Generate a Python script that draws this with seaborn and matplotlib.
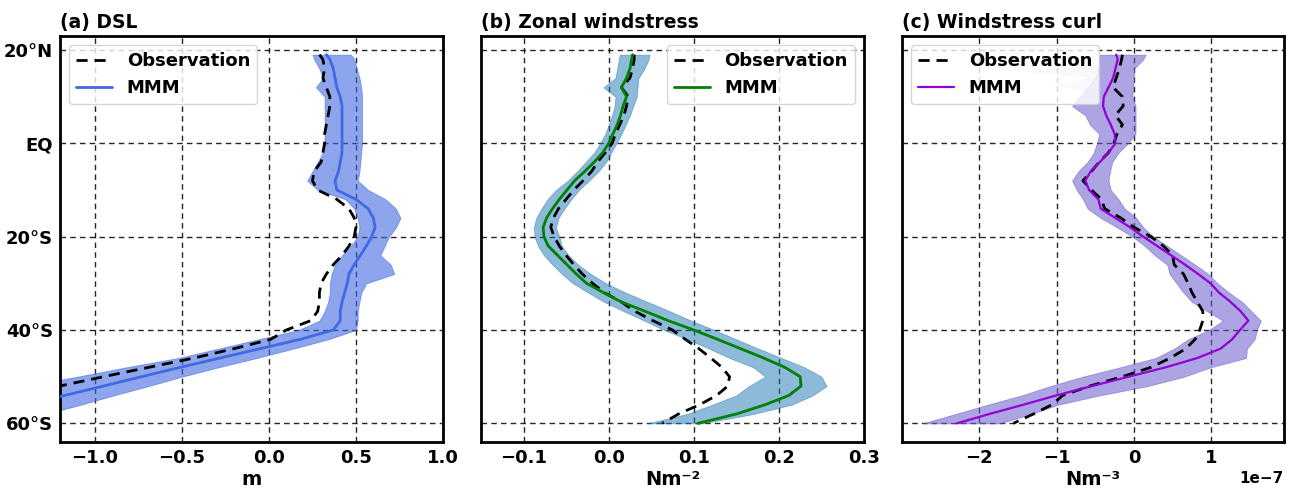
import numpy as np
import pandas as pd
import matplotlib
matplotlib.use("Agg")
import matplotlib.pyplot as plt
import seaborn as sns

# ---------------- data ----------------
lat = [19, 18, 16, 14, 12, 10, 8, 6, 4, 2,
       0, -2, -4, -6, -8, -10, -12, -14, -16, -18,
       -20, -22, -24, -26, -28, -30, -32, -34, -36, -38,
       -40, -42, -44, -46, -48, -50, -52, -54, -56, -58,
       -60]

# (a) DSL [m]
dsl_mmm = [0.33, 0.35, 0.37, 0.38, 0.39, 0.41, 0.42, 0.42, 0.42, 0.42,
           0.42, 0.42, 0.41, 0.40, 0.38, 0.39, 0.50, 0.57, 0.60, 0.61,
           0.59, 0.56, 0.525, 0.49, 0.46, 0.45, 0.435, 0.42, 0.41, 0.41,
           0.37, 0.18, -0.05, -0.28, -0.51, -0.73, -0.95, -1.17, -1.40, -1.62,
           -1.84]
dsl_obs = [0.29, 0.31, 0.32, 0.31, 0.33, 0.35, 0.35, 0.34, 0.33, 0.32,
           0.32, 0.31, 0.30, 0.26, 0.25, 0.28, 0.39, 0.46, 0.49, 0.50,
           0.49, 0.46, 0.42, 0.37, 0.33, 0.30, 0.29, 0.29, 0.28, 0.24,
           0.10, 0.01, -0.20, -0.43, -0.69, -0.95, -1.20, -1.45, -1.70, -1.95,
           -2.20]
dsl_lo = [0.25, 0.26, 0.29, 0.31, 0.27, 0.32, 0.32, 0.32, 0.32, 0.32,
          0.32, 0.31, 0.28, 0.25, 0.22, 0.28, 0.44, 0.49, 0.51, 0.52,
          0.51, 0.47, 0.42, 0.38, 0.36, 0.35, 0.35, 0.34, 0.32, 0.29,
          0.17, -0.06, -0.29, -0.52, -0.82, -1.10, -1.39, -1.67, -1.95, -2.23,
          -2.50]
dsl_hi = [0.47, 0.49, 0.505, 0.52, 0.53, 0.535, 0.535, 0.535, 0.535, 0.535,
          0.535, 0.53, 0.525, 0.52, 0.51, 0.57, 0.67, 0.73, 0.755, 0.73,
          0.69, 0.665, 0.64, 0.70, 0.72, 0.56, 0.53, 0.52, 0.51, 0.51,
          0.50, 0.34, 0.14, -0.07, -0.29, -0.50, -0.69, -0.89, -1.08, -1.28,
          -1.47]

# (b) Zonal windstress [N m-2]
ws_mmm = [0.028, 0.027, 0.025, 0.021, 0.015, 0.021, 0.017, 0.014, 0.010, 0.005,
          0.000, -0.007, -0.017, -0.028, -0.040, -0.049, -0.058, -0.066, -0.073, -0.077,
          -0.076, -0.071, -0.060, -0.049, -0.038, -0.026, -0.006, 0.015, 0.043, 0.070,
          0.100, 0.128, 0.155, 0.182, 0.207, 0.225, 0.226, 0.212, 0.184, 0.150,
          0.105]
ws_obs = [0.030, 0.030, 0.028, 0.025, 0.015, 0.023, 0.021, 0.018, 0.013, 0.008,
          0.004, -0.004, -0.013, -0.020, -0.030, -0.041, -0.050, -0.059, -0.065, -0.068,
          -0.064, -0.058, -0.050, -0.041, -0.031, -0.019, -0.005, 0.015, 0.031, 0.052,
          0.075, 0.090, 0.106, 0.120, 0.133, 0.142, 0.140, 0.127, 0.107, 0.082,
          0.063]
ws_lo = [0.013, 0.012, 0.010, 0.008, -0.006, 0.008, 0.007, 0.004, 0.000, -0.004,
         -0.010, -0.017, -0.027, -0.037, -0.048, -0.062, -0.072, -0.079, -0.085, -0.088,
         -0.087, -0.083, -0.076, -0.066, -0.055, -0.042, -0.024, -0.005, 0.018, 0.042,
         0.065, 0.093, 0.118, 0.142, 0.170, 0.184, 0.165, 0.150, 0.122, 0.092,
         0.046]
ws_hi = [0.048, 0.047, 0.042, 0.035, 0.034, 0.033, 0.029, 0.025, 0.020, 0.015,
         0.009, 0.003, -0.003, -0.012, -0.023, -0.035, -0.044, -0.052, -0.059, -0.062,
         -0.058, -0.055, -0.047, -0.036, -0.021, -0.003, 0.020, 0.046, 0.072, 0.097,
         0.124, 0.150, 0.176, 0.203, 0.230, 0.250, 0.256, 0.240, 0.215, 0.170,
         0.110]

# (c) Windstress curl [1e-7 N m-3]
CURL_UNIT = 1e-7
curl_mmm = [-0.23, -0.21, -0.24, -0.27, -0.33, -0.39, -0.40, -0.36, -0.30, -0.25,
            -0.24, -0.33, -0.44, -0.56, -0.63, -0.58, -0.46, -0.43, -0.24, -0.05,
            0.12, 0.30, 0.48, 0.66, 0.83, 0.99, 1.10, 1.25, 1.38, 1.48,
            1.37, 1.27, 1.12, 0.82, 0.41, -0.07, -0.54, -1.00, -1.43, -1.87,
            -2.29]
curl_obs = [-0.15, -0.16, -0.19, -0.23, -0.27, -0.15, -0.14, -0.24, -0.15, -0.22,
            -0.26, -0.33, -0.45, -0.55, -0.66, -0.55, -0.42, -0.38, -0.17, 0.00,
            0.22, 0.38, 0.50, 0.52, 0.64, 0.70, 0.75, 0.82, 0.89, 0.89,
            0.85, 0.79, 0.67, 0.47, 0.22, -0.15, -0.57, -0.92, -1.06, -1.30,
            -1.56]
curl_lo = [-0.45, -0.45, -0.46, -0.50, -0.60, -0.70, -0.80, -0.63, -0.57, -0.45,
           -0.48, -0.52, -0.60, -0.72, -0.80, -0.74, -0.66, -0.60, -0.43, -0.22,
           -0.02, 0.14, 0.27, 0.43, 0.46, 0.55, 0.64, 0.75, 0.95, 1.15,
           0.97, 0.70, 0.52, 0.28, -0.18, -0.66, -1.08, -1.45, -1.89, -2.31,
           -2.73]
curl_hi = [0.15, 0.12, 0.00, 0.00, -0.01, -0.02, 0.02, 0.02, 0.02, 0.02,
           -0.08, -0.20, -0.28, -0.31, -0.33, -0.30, -0.20, -0.12, 0.03, 0.12,
           0.25, 0.43, 0.61, 0.79, 0.96, 1.08, 1.23, 1.40, 1.52, 1.64,
           1.59, 1.56, 1.46, 1.45, 0.99, 0.65, 0.18, -0.44, -0.98, -1.33,
           -1.73]
# faint single-model excursions in (c)
spike_lat = [17.0, 15.3, 14.2, 13.2, 12.4, 11.5]
spike_x = [-0.45, -1.39, -0.60, -0.75, -1.09, -0.60]
spike_edge = [-0.45, -0.45, -0.50, -0.55, -0.60, -0.60]

ytick_vals = [20, 0, -20, -40, -60]
ytick_labels = ["20°N", "EQ", "20°S", "40°S", "60°S"]

titles = ["(a) DSL", "(b) Zonal windstress", "(c) Windstress curl"]
xlabels = ["m", "Nm⁻²", "Nm⁻³"]
xticks_a = [-1.0, -0.5, 0.0, 0.5, 1.0]
xticks_b = [-0.1, 0.0, 0.1, 0.2, 0.3]
xticks_c = [-2e-7, -1e-7, 0.0, 1e-7]

# ---------------- style ----------------
sns.set_style("white")
plt.rcParams["font.family"] = ["DejaVu Sans"]
plt.rcParams["font.weight"] = "bold"
plt.rcParams["axes.titleweight"] = "bold"
plt.rcParams["axes.labelweight"] = "bold"
plt.rcParams["axes.unicode_minus"] = True
plt.rcParams["text.color"] = "black"
plt.rcParams["axes.labelcolor"] = "black"
plt.rcParams["xtick.color"] = "black"
plt.rcParams["ytick.color"] = "black"
plt.rcParams["axes.edgecolor"] = "black"

fig = plt.figure(figsize=(12.91, 4.90), dpi=100)
W, H = 1291, 490
def rect(l, r, t=36, b=442):
    return [l / W, 1 - b / H, (r - l) / W, (b - t) / H]

ax_a = fig.add_axes(rect(60, 443))
ax_b = fig.add_axes(rect(481, 864))
ax_c = fig.add_axes(rect(902, 1284))

panels = [
    dict(ax=ax_a, mmm=dsl_mmm, obs=dsl_obs, lo=dsl_lo, hi=dsl_hi, scale=1.0,
         fill="royalblue", falpha=0.6, line="royalblue", lw=2.0,
         xlim=(-1.2, 1.0), xticks=xticks_a, loc="upper left"),
    dict(ax=ax_b, mmm=ws_mmm, obs=ws_obs, lo=ws_lo, hi=ws_hi, scale=1.0,
         fill="#1f77b4", falpha=0.5, line="green", lw=2.0,
         xlim=(-0.15, 0.3), xticks=xticks_b, loc="upper right"),
    dict(ax=ax_c, mmm=curl_mmm, obs=curl_obs, lo=curl_lo, hi=curl_hi, scale=CURL_UNIT,
         fill="slateblue", falpha=0.55, line="darkviolet", lw=1.6,
         xlim=(-3.0e-7, 1.94e-7), xticks=xticks_c, loc="upper left"),
]

for i, p in enumerate(panels):
    ax = p["ax"]
    s = p["scale"]
    lo = np.array(p["lo"]) * s
    hi = np.array(p["hi"]) * s
    ax.fill_betweenx(lat, lo, hi, color=p["fill"], alpha=p["falpha"], lw=0.6,
                     edgecolor=p["fill"], zorder=2)
    if i == 2:
        ax.fill_betweenx(spike_lat, np.array(spike_x) * s, np.array(spike_edge) * s,
                         color=p["fill"], alpha=0.18, lw=0, zorder=2)
    df = pd.DataFrame({"lat": lat,
                       "Observation": np.array(p["obs"]) * s,
                       "MMM": np.array(p["mmm"]) * s})
    sns.lineplot(data=df, x="Observation", y="lat", ax=ax, sort=False, estimator=None,
                 color="black", lw=2.0, linestyle=(0, (4, 2.5)), label="Observation", zorder=4)
    sns.lineplot(data=df, x="MMM", y="lat", ax=ax, sort=False, estimator=None,
                 color=p["line"], lw=p["lw"], label="MMM", zorder=5)

    ax.set_xlim(*p["xlim"])
    ax.set_ylim(-64, 23)
    ax.set_xticks(p["xticks"])
    ax.set_yticks(ytick_vals)
    if i == 0:
        ax.set_yticklabels(ytick_labels)
    else:
        ax.set_yticklabels([])
    ax.set_ylabel("")
    ax.set_xlabel(xlabels[i], fontsize=14, fontweight="bold", labelpad=2, color="black")
    ax.set_title(titles[i], loc="left", fontsize=13.5, fontweight="bold", pad=6, color="black")
    ax.grid(True, color="black", linestyle=(0, (4, 3)), linewidth=1.0, alpha=0.85)
    for gl in ax.get_xgridlines() + ax.get_ygridlines():
        gl.set_zorder(3)
    ax.tick_params(axis="both", length=0, pad=5, labelsize=13, colors="black")
    for lab in ax.get_xticklabels() + ax.get_yticklabels():
        lab.set_fontweight("bold")
    for sp in ax.spines.values():
        sp.set_linewidth(2.0)
        sp.set_color("black")
        sp.set_visible(True)
    ax.xaxis.get_offset_text().set_fontsize(11)
    ax.xaxis.get_offset_text().set_fontweight("bold")
    ax.xaxis.get_offset_text().set_color("black")
    leg = ax.legend(loc=p["loc"], prop={"weight": "bold", "size": 13},
                    handlelength=2.0, framealpha=0.8)
    for t in leg.get_texts():
        t.set_color("black")

fig.savefig("out.png", dpi=100)
